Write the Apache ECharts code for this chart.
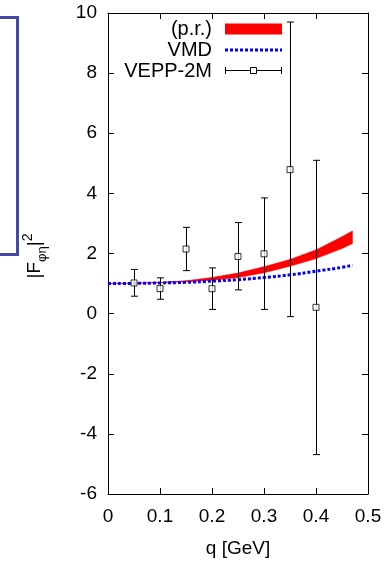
<!DOCTYPE html>
<html>
<head>
<meta charset="utf-8">
<script src="https://cdn.jsdelivr.net/npm/echarts@6/dist/echarts.min.js"></script>
<style>
  html, body { margin: 0; padding: 0; background: #fff; }
  #chart { width: 388px; height: 563px; }
</style>
</head>
<body>
<div id="chart"></div>
<script>
// curve samples (q in GeV)
const qCurve = [0, 0.05, 0.1, 0.15, 0.2, 0.25, 0.3, 0.35, 0.4, 0.45, 0.47];
const prLower = [1.0, 1.01, 1.03, 1.06, 1.11, 1.2, 1.36, 1.58, 1.83, 2.17, 2.33];
const prUpper = [1.0, 1.01, 1.04, 1.09, 1.2, 1.35, 1.56, 1.8, 2.12, 2.56, 2.75];
const vmd = [1.0, 1.005, 1.02, 1.04, 1.08, 1.13, 1.2, 1.29, 1.41, 1.54, 1.61];

// VEPP-2M data points
const qData = [0.05, 0.1, 0.15, 0.2, 0.25, 0.3, 0.35, 0.4];
const veppVal = [1.02, 0.83, 2.15, 0.83, 1.9, 1.99, 4.79, 0.21];
const veppLo = [0.58, 0.48, 1.43, 0.14, 0.79, 0.14, -0.1, -4.69];
const veppHi = [1.47, 1.19, 2.87, 1.52, 3.03, 3.85, 9.7, 5.1];

const xTicks = [0, 0.1, 0.2, 0.3, 0.4, 0.5];
const yTicks = [-6, -4, -2, 0, 2, 4, 6, 8, 10];

const FONT = "'Liberation Sans', Arial, sans-serif";

const chart = echarts.init(document.getElementById("chart"));

// band segments: each item joins two neighbouring samples
const bandData = [];
for (let i = 0; i < qCurve.length - 1; i++) {
  bandData.push([qCurve[i], prLower[i], prUpper[i], qCurve[i + 1], prLower[i + 1], prUpper[i + 1]]);
}

const axisCommon = {
  type: "value",
  axisLine: { show: true, onZero: false, lineStyle: { color: "#000", width: 1 } },
  axisTick: { show: true, inside: true, length: 6, lineStyle: { color: "#000" } },
  splitLine: { show: false },
};

const option = {
  animation: false,
  backgroundColor: "#fff",
  grid: { left: 108, right: 20, top: 13, bottom: 62 },
  xAxis: [
    Object.assign({}, axisCommon, {
      min: xTicks[0], max: xTicks[xTicks.length - 1], interval: 0.1,
      position: "bottom",
      name: "q [GeV]", nameLocation: "middle", nameGap: 45,
      nameTextStyle: { fontSize: 19, color: "#000", fontFamily: FONT },
      axisLabel: { fontSize: 19, color: "#000", fontFamily: FONT, margin: 13,
        formatter: (v) => (v === 0 ? "0" : v.toFixed(1)) },
    }),
    Object.assign({}, axisCommon, {
      min: xTicks[0], max: xTicks[xTicks.length - 1], interval: 0.1,
      position: "top", axisLabel: { show: false },
    }),
  ],
  yAxis: [
    Object.assign({}, axisCommon, {
      min: yTicks[0], max: yTicks[yTicks.length - 1], interval: 2,
      position: "left",
      axisLabel: { fontSize: 19, color: "#000", fontFamily: FONT, margin: 11 },
    }),
    Object.assign({}, axisCommon, {
      min: yTicks[0], max: yTicks[yTicks.length - 1], interval: 2,
      position: "right", axisLabel: { show: false },
    }),
  ],
  graphic: [
    // frame fragment at the far left
    {
      type: "polyline",
      shape: { points: [[0, 17.5], [17.5, 17.5], [17.5, 254.5], [0, 254.5]] },
      style: { stroke: "#4448a6", lineWidth: 3, fill: null },
    },
    // y axis title
    {
      type: "text",
      x: 35, y: 256, rotation: Math.PI / 2,
      style: {
        text: "{m||F}{s|φη}{m||}{p|2}",
        align: "center", verticalAlign: "middle",
        rich: {
          m: { fontSize: 19, fontFamily: FONT, fill: "#000", lineHeight: 27, verticalAlign: "middle" },
          s: { fontSize: 13, fontFamily: FONT, fill: "#000", lineHeight: 27, verticalAlign: "bottom" },
          p: { fontSize: 14, fontFamily: FONT, fill: "#000", lineHeight: 27, verticalAlign: "top" },
        },
      },
    },
    // legend
    { type: "text", x: 212, y: 29, style: { text: "(p.r.)", font: "20px " + FONT, fill: "#000", align: "right", verticalAlign: "middle" } },
    { type: "text", x: 212, y: 50, style: { text: "VMD", font: "20px " + FONT, fill: "#000", align: "right", verticalAlign: "middle" } },
    { type: "text", x: 212, y: 71, style: { text: "VEPP-2M", font: "20px " + FONT, fill: "#000", align: "right", verticalAlign: "middle" } },
    { type: "rect", shape: { x: 225, y: 23.5, width: 57, height: 11 }, style: { fill: "#ff0000" } },
    { type: "line", shape: { x1: 225, y1: 50, x2: 282, y2: 50 }, style: { stroke: "#0000ff", lineWidth: 3, lineDash: [3, 2] } },
    { type: "line", shape: { x1: 225, y1: 70.5, x2: 282, y2: 70.5 }, style: { stroke: "#000", lineWidth: 1 } },
    { type: "line", shape: { x1: 225.5, y1: 67, x2: 225.5, y2: 74 }, style: { stroke: "#000", lineWidth: 1 } },
    { type: "line", shape: { x1: 281.5, y1: 67, x2: 281.5, y2: 74 }, style: { stroke: "#000", lineWidth: 1 } },
    { type: "rect", shape: { x: 250.5, y: 67.5, width: 6, height: 6 }, style: { fill: "#fff", stroke: "#000", lineWidth: 1 } },
  ],
  series: [
    {
      name: "(p.r.)",
      type: "custom",
      data: bandData,
      z: 1,
      renderItem: (params, api) => {
        const a = api.coord([api.value(0), api.value(1)]);
        const b = api.coord([api.value(0), api.value(2)]);
        const c = api.coord([api.value(3), api.value(5)]);
        const d = api.coord([api.value(3), api.value(4)]);
        return {
          type: "polygon",
          shape: { points: [a, b, c, d] },
          style: { fill: "#ff0000", stroke: "#ff0000", lineWidth: 0.6 },
        };
      },
    },
    {
      name: "VMD",
      type: "line",
      data: qCurve.map((q, i) => [q, vmd[i]]),
      smooth: true,
      showSymbol: false,
      z: 2,
      lineStyle: { color: "#0000ff", width: 3, type: [3, 2] },
    },
    {
      name: "VEPP-2M bars",
      type: "custom",
      data: qData.map((q, i) => [q, veppLo[i], veppHi[i]]),
      z: 3,
      renderItem: (params, api) => {
        const lo = api.coord([api.value(0), api.value(1)]);
        const hi = api.coord([api.value(0), api.value(2)]);
        const x = Math.round(lo[0]) + 0.5;
        const w = 3.5;
        const st = { stroke: "#000", lineWidth: 1 };
        return {
          type: "group",
          children: [
            { type: "line", shape: { x1: x, y1: lo[1], x2: x, y2: hi[1] }, style: st },
            { type: "line", shape: { x1: x - w, y1: lo[1], x2: x + w, y2: lo[1] }, style: st },
            { type: "line", shape: { x1: x - w, y1: hi[1], x2: x + w, y2: hi[1] }, style: st },
          ],
        };
      },
    },
    {
      name: "VEPP-2M",
      type: "scatter",
      data: qData.map((q, i) => [q, veppVal[i]]),
      symbol: "rect",
      symbolSize: 6,
      z: 4,
      itemStyle: { color: "#fff", borderColor: "#000", borderWidth: 1 },
    },
  ],
};

chart.setOption(option);
</script>
</body>
</html>
